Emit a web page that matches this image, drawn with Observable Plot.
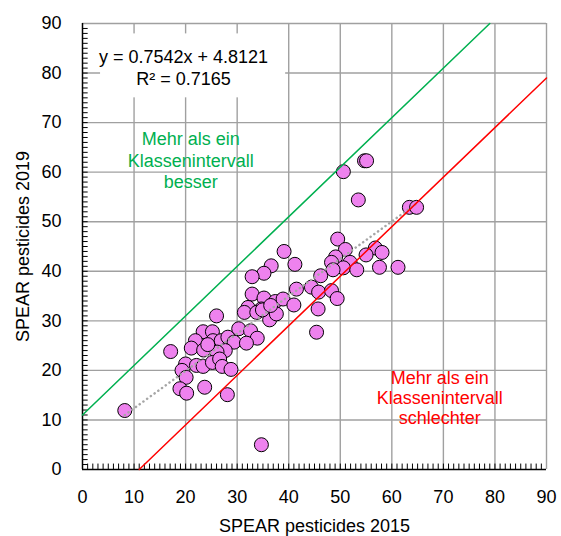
<!DOCTYPE html>
<html>
<head>
<meta charset="utf-8">
<script src="https://cdn.jsdelivr.net/npm/d3@7"></script>
<script src="https://cdn.jsdelivr.net/npm/@observablehq/plot@0.6"></script>
<style>
  html, body { margin: 0; padding: 0; background: #fff; }
  svg { font-family: "Liberation Sans", Arial, sans-serif; }
</style>
</head>
<body>
<div id="chart"></div>
<script>
// SPEAR pesticides 2015 (x) vs 2019 (y)
const spear2015 = [50.6, 54.7, 55.1, 53.5, 63.4, 64.8, 49.5, 51.0, 56.8, 58.1,
  55.0, 49.1, 48.3, 51.9, 50.6, 53.2, 48.6, 57.6, 61.2, 46.2,
  44.4, 45.8, 48.3, 49.4, 45.7, 45.4, 39.1, 41.2, 36.6, 35.2,
  32.9, 41.5, 32.9, 35.2, 37.4, 38.9, 41.0, 32.1, 31.4, 34.7,
  33.8, 36.3, 37.6, 26.0, 23.4, 25.2, 21.9, 21.1, 23.5, 25.3,
  26.9, 28.2, 29.4, 30.3, 32.6, 33.9, 31.8, 27.7, 26.1, 17.1,
  20.0, 22.1, 23.4, 25.2, 26.6, 27.1, 28.8, 19.3, 20.1, 18.9,
  20.2, 23.7, 28.1, 8.2, 34.7, 34.9, 36.5, 24.3];
const spear2019 = [60.1, 62.3, 62.3, 54.4, 52.9, 52.9, 46.5, 44.4, 44.7, 43.8,
  43.3, 42.9, 41.8, 41.8, 40.7, 40.3, 40.3, 40.8, 40.8, 39.1,
  36.8, 35.8, 36.1, 34.5, 32.4, 27.7, 44.0, 41.4, 41.1, 39.6,
  38.9, 36.4, 35.4, 34.6, 33.9, 34.4, 33.2, 32.7, 31.7, 32.4,
  31.7, 30.2, 31.4, 31.0, 27.8, 27.8, 26.0, 24.5, 24.1, 26.0,
  26.0, 26.7, 25.7, 28.4, 28.0, 26.5, 25.5, 24.0, 23.7, 23.8,
  21.3, 21.0, 20.8, 21.6, 22.3, 20.8, 20.2, 20.0, 18.6, 16.3,
  15.4, 16.6, 15.1, 11.9, 5.0, 32.2, 33.1, 25.2];

const slope = 0.7542, intercept = 4.8121;
const classInterval = 11;
const equationLines = ["y = 0.7542x + 4.8121", "R² = 0.7165"];
const betterLabel = "Mehr als ein\nKlassenintervall\nbesser";
const worseLabel = "Mehr als ein\nKlassenintervall\nschlechter";
const majorTicks = d3.range(0, 91, 10);
const minorTicks = d3.range(1, 90, 1);

const points = spear2015.map((x, i) => ({x, y: spear2019[i]}));
const xMin = d3.min(spear2015), xMax = d3.max(spear2015);
const trend = [xMin, xMax].map(x => ({x, y: slope * x + intercept}));
const upper = [{x: 0, y: classInterval}, {x: 90 - classInterval, y: 90}];
const lower = [{x: classInterval, y: 0}, {x: 90, y: 90 - classInterval}];

const eqAnchor = {x: 19.6, y: 81.3};
const eqBox = [{x1: eqAnchor.x - 16.1, x2: eqAnchor.x + 19.8, y1: eqAnchor.y - 6.3, y2: eqAnchor.y + 6.6}];

const chart = Plot.plot({
  width: 561,
  height: 536,
  marginLeft: 82,
  marginRight: 15,
  marginTop: 23,
  marginBottom: 67,
  x: {domain: [0, 90]},
  y: {domain: [0, 90]},
  style: {fontFamily: "'Liberation Sans', Arial, sans-serif", fontSize: "18px", color: "#000", background: "#fff"},
  marks: [
    Plot.ruleX(majorTicks.slice(1), {stroke: "#a0a0a0", strokeWidth: 1.4}),
    Plot.ruleY(majorTicks.slice(1), {stroke: "#a0a0a0", strokeWidth: 1.4}),
    Plot.rect(eqBox, {x1: "x1", x2: "x2", y1: "y1", y2: "y2", fill: "white"}),
    Plot.ruleX(minorTicks, {y1: 0, y2: 1.1, stroke: "black", strokeWidth: 1}),
    Plot.ruleY(minorTicks, {x1: 0, x2: 1.1, stroke: "black", strokeWidth: 1}),
    Plot.ruleX([0], {stroke: "black", strokeWidth: 1.5}),
    Plot.ruleY([0], {stroke: "black", strokeWidth: 1.5}),
    Plot.axisX({ticks: majorTicks, tickSize: 0, tickPadding: 21, fontSize: 18,
      label: "SPEAR pesticides 2015", labelAnchor: "center", labelArrow: "none", labelOffset: 62}),
    Plot.axisY({ticks: majorTicks, tickSize: 0, tickPadding: 21, fontSize: 18,
      label: "SPEAR pesticides 2019", labelAnchor: "center", labelArrow: "none", labelOffset: 66}),
    Plot.dot(points, {x: "x", y: "y", r: 7, fill: "#ee82ee", stroke: "black", strokeWidth: 1}),
    Plot.line(trend, {x: "x", y: "y", stroke: "#a6a6a6", strokeWidth: 2.5, strokeDasharray: "0.1,4.5", strokeLinecap: "round"}),
    Plot.line(upper, {x: "x", y: "y", stroke: "#00b050", strokeWidth: 1.5}),
    Plot.line(lower, {x: "x", y: "y", stroke: "#ff0000", strokeWidth: 1.5}),
    Plot.text([equationLines.join("\n")], {x: eqAnchor.x, y: eqAnchor.y, fontSize: 18, lineHeight: 1.25, fill: "black"}),
    Plot.text([betterLabel], {x: 21, y: 62.5, fontSize: 18, lineHeight: 1.17, fill: "#00b050"}),
    Plot.text([worseLabel], {x: 69.3, y: 14.5, fontSize: 18, lineHeight: 1.12, fill: "#ff0000"})
  ]
});
document.getElementById("chart").appendChild(chart);
</script>
</body>
</html>
